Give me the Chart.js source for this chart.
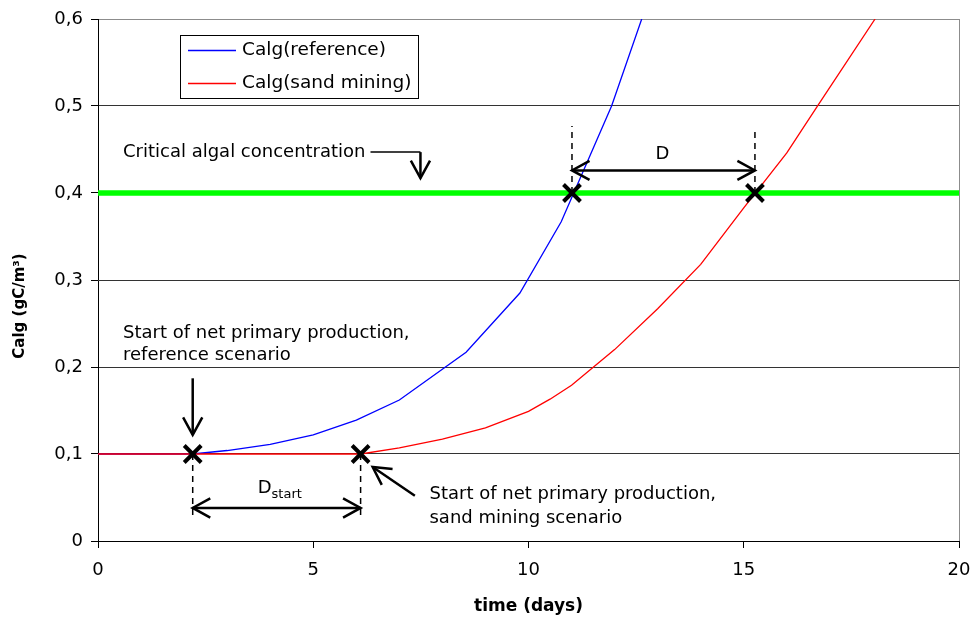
<!DOCTYPE html>
<html>
<head>
<meta charset="utf-8">
<script src="https://cdn.jsdelivr.net/npm/chart.js@4"></script>
<style>
  html, body { margin: 0; padding: 0; background: #fff; }
  #wrap { width: 973px; height: 618px; }
</style>
</head>
<body>
<div id="wrap"><canvas id="myChart" width="973" height="618"></canvas></div>
<script>
// ---- data ----
var refX  = [0, 2.2, 3, 4, 5, 6, 7, 8.55, 9.8, 10.76, 11.42, 11.93, 12.63];
var refY  = [0.1, 0.1, 0.104, 0.111, 0.122, 0.139, 0.162, 0.217, 0.285, 0.367, 0.442, 0.5, 0.6];
var sandX = [0, 6.1, 7, 8, 9, 10, 10.5, 11, 12, 13, 14, 15, 16, 16.7, 18.05];
var sandY = [0.1, 0.1, 0.107, 0.117, 0.13, 0.149, 0.163, 0.179, 0.22, 0.267, 0.318, 0.383, 0.446, 0.499, 0.6];
var critX = [0, 20];
var critY = [0.4, 0.4];
var markX = [2.2, 6.1, 11.01, 15.26];
var markY = [0.1, 0.1, 0.4, 0.4];
var xTicks = [0, 5, 10, 15, 20];
var yTicks = [0, 0.1, 0.2, 0.3, 0.4, 0.5, 0.6];

var FONT = '"DejaVu Sans", Verdana, sans-serif';

function pts(xs, ys) {
    return xs.map(function (x, i) { return { x: x, y: ys[i] }; });
}

// ---- annotations (data coordinates) ----
var dashed = [
    { x: 2.2,   y1: 0.1, y2: 0.024 },
    { x: 6.1,   y1: 0.1, y2: 0.024 },
    { x: 11.01, y1: 0.4, y2: 0.477 },
    { x: 15.26, y1: 0.4, y2: 0.475 }
];
var arrows = [
    // [x1, y1, x2, y2, twoHeads]
    [2.2, 0.038, 6.1, 0.038, true],
    [11.01, 0.426, 15.26, 0.426, true],
    [2.2, 0.187, 2.2, 0.122, false],
    [7.36, 0.052, 6.38, 0.085, false],
    [7.49, 0.447, 7.49, 0.417, false]
];
var plainLines = [
    [6.33, 0.447, 7.49, 0.447]
];
var texts = [
    { t: 'Critical algal concentration', x: 0.58, y: 0.447 },
    { t: 'Start of net primary production,', x: 0.58, y: 0.239 },
    { t: 'reference scenario', x: 0.58, y: 0.213 },
    { t: 'Start of net primary production,', x: 7.7, y: 0.054 },
    { t: 'sand mining scenario', x: 7.7, y: 0.026 },
    { t: 'D', x: 12.95, y: 0.445 }
];

function drawHead(c, x1, y1, x2, y2) {
    var a = Math.atan2(y2 - y1, x2 - x1), L = 20, s = 0.5;
    c.beginPath();
    c.moveTo(x2 - L * Math.cos(a - s), y2 - L * Math.sin(a - s));
    c.lineTo(x2, y2);
    c.lineTo(x2 - L * Math.cos(a + s), y2 - L * Math.sin(a + s));
    c.stroke();
}

var annotPlugin = {
    id: 'annot',
    beforeDatasetsDraw: function (chart) {
        var c = chart.ctx, a = chart.chartArea;
        c.save();
        c.strokeStyle = '#8c8c8c';
        c.lineWidth = 1;
        c.beginPath();
        c.moveTo(a.right + 0.5, a.top);
        c.lineTo(a.right + 0.5, a.bottom);
        c.stroke();
        // y axis title
        c.translate(20, 306);
        c.rotate(-Math.PI / 2);
        c.fillStyle = '#000';
        c.font = 'bold 15px ' + FONT;
        c.textAlign = 'center';
        c.textBaseline = 'middle';
        c.fillText('Calg (gC/m³)', 0, 0);
        c.restore();
    },
    afterDatasetsDraw: function (chart) {
        var c = chart.ctx, sx = chart.scales.x, sy = chart.scales.y;
        function X(v) { return sx.getPixelForValue(v); }
        function Y(v) { return sy.getPixelForValue(v); }
        c.save();
        c.strokeStyle = '#000';
        c.fillStyle = '#000';

        // dashed guides
        c.lineWidth = 1.5;
        c.setLineDash([6, 5]);
        dashed.forEach(function (d) {
            c.beginPath();
            c.moveTo(X(d.x), Y(d.y1));
            c.lineTo(X(d.x), Y(d.y2));
            c.stroke();
        });
        c.setLineDash([]);

        // arrows
        c.lineWidth = 2.5;
        arrows.forEach(function (r) {
            var x1 = X(r[0]), y1 = Y(r[1]), x2 = X(r[2]), y2 = Y(r[3]);
            c.beginPath(); c.moveTo(x1, y1); c.lineTo(x2, y2); c.stroke();
            drawHead(c, x1, y1, x2, y2);
            if (r[4]) drawHead(c, x2, y2, x1, y1);
        });
        c.lineWidth = 1.5;
        plainLines.forEach(function (r) {
            c.beginPath(); c.moveTo(X(r[0]), Y(r[1])); c.lineTo(X(r[2]), Y(r[3])); c.stroke();
        });

        // texts
        c.font = '18px ' + FONT;
        c.textBaseline = 'middle';
        c.textAlign = 'left';
        texts.forEach(function (t) { c.fillText(t.t, X(t.x), Y(t.y)); });
        // D_start
        var dx = X(3.71), dy = Y(0.06);
        c.fillText('D', dx, dy);
        var w = c.measureText('D').width;
        c.font = '13px ' + FONT;
        c.fillText('start', dx + w, dy + 6);

        // legend
        var lx = 180.5, ly = 35.5, lw = 238, lh = 63;
        c.fillStyle = '#fff';
        c.fillRect(lx, ly, lw, lh);
        c.strokeStyle = '#000';
        c.lineWidth = 1;
        c.strokeRect(lx, ly, lw, lh);
        c.font = '18.5px ' + FONT;
        c.fillStyle = '#000';
        var items = [chart.data.datasets[2], chart.data.datasets[1]];
        items.forEach(function (ds, i) {
            var yy = ly + 15 + i * 33;
            c.strokeStyle = ds.borderColor;
            c.lineWidth = 1.3;
            c.beginPath(); c.moveTo(188, yy); c.lineTo(236, yy); c.stroke();
            c.fillText(ds.label, 242, yy);
        });
        c.restore();
    }
};

var ctx = document.getElementById('myChart').getContext('2d');

var myChart = new Chart(ctx, {
    type: 'scatter',
    data: {
        datasets: [
            {
                label: 'markers',
                data: pts(markX, markY),
                showLine: false,
                pointStyle: 'crossRot',
                pointRadius: 12,
                pointBorderWidth: 4,
                borderColor: '#000',
                backgroundColor: '#000'
            },
            {
                label: 'Calg(sand mining)',
                data: pts(sandX, sandY),
                showLine: true,
                borderColor: '#ff0000',
                borderWidth: 1.3,
                pointRadius: 0,
                tension: 0
            },
            {
                label: 'Calg(reference)',
                data: pts(refX, refY),
                showLine: true,
                borderColor: '#0000ff',
                borderWidth: 1.3,
                pointRadius: 0,
                tension: 0
            },
            {
                label: 'critical',
                data: pts(critX, critY),
                showLine: true,
                borderColor: '#00ff00',
                borderWidth: 5.5,
                pointRadius: 0
            }
        ]
    },
    options: {
        responsive: false,
        animation: false,
        devicePixelRatio: 1,
        layout: { autoPadding: false, padding: { left: 0, right: 14, top: 19, bottom: 0 } },
        plugins: {
            legend: { display: false },
            tooltip: { enabled: false }
        },
        scales: {
            x: {
                type: 'linear',
                min: 0,
                max: 20,
                afterFit: function (s) { s.height = 77; s.paddingLeft = 0; s.paddingRight = 0; },
                afterBuildTicks: function (s) { s.ticks = xTicks.map(function (v) { return { value: v }; }); },
                border: { color: '#000', width: 1 },
                grid: { drawOnChartArea: false, drawTicks: true, tickLength: 7, tickColor: '#000' },
                ticks: {
                    color: '#000',
                    padding: 12,
                    font: { family: FONT, size: 18 },
                    callback: function (v) { return String(v); }
                },
                title: {
                    display: true,
                    text: 'time (days)',
                    color: '#000',
                    font: { family: FONT, size: 17, weight: 'bold' },
                    padding: { top: 0, bottom: 1 }
                }
            },
            y: {
                type: 'linear',
                min: 0,
                max: 0.6,
                afterFit: function (s) { s.width = 98; s.paddingTop = 0; s.paddingBottom = 0; },
                afterBuildTicks: function (s) { s.ticks = yTicks.map(function (v) { return { value: v }; }); },
                border: { color: '#000', width: 1 },
                grid: {
                    color: function (c) { return c.tick && Math.abs(c.tick.value - 0.6) < 1e-6 ? '#8c8c8c' : '#333'; },
                    lineWidth: 1,
                    drawTicks: true,
                    tickLength: 7,
                    tickColor: '#000'
                },
                ticks: {
                    color: '#000',
                    padding: 8,
                    font: { family: FONT, size: 18 },
                    callback: function (v) { return (Math.round(v * 10) / 10).toString().replace('.', ','); }
                },
                title: { display: false }
            }
        }
    },
    plugins: [annotPlugin]
});
</script>
</body>
</html>
